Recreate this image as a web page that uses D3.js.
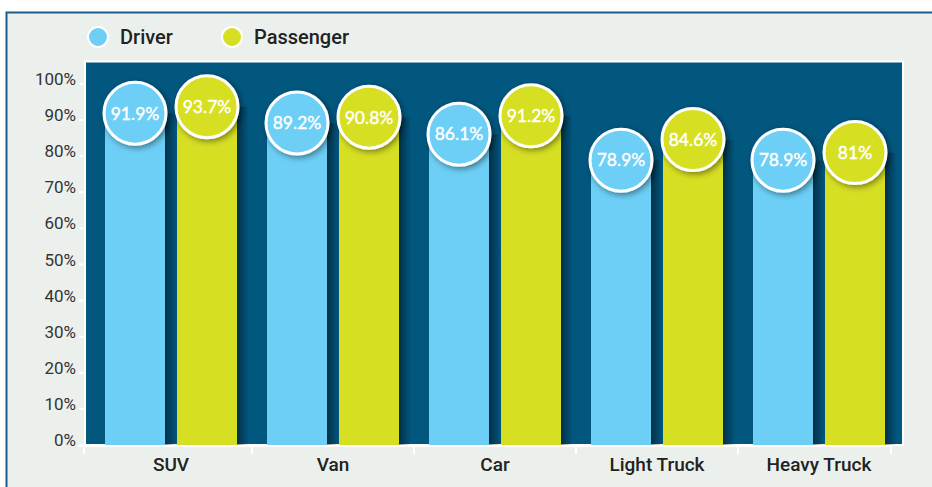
<!DOCTYPE html>
<html>
<head>
<meta charset="utf-8">
<script src="https://cdn.jsdelivr.net/npm/d3@7"></script>
<style>
    html, body { margin: 0; padding: 0; background: #fff; }
    svg { display: block; }
</style>
</head>
<body>
<div class="chart"></div>
<script>
const categories = ["SUV", "Van", "Car", "Light Truck", "Heavy Truck"];
const seriesNames = ["Driver", "Passenger"];
const driverValues = [91.9, 89.2, 86.1, 78.9, 78.9];
const passengerValues = [93.7, 90.8, 91.2, 84.6, 81];
const valueLabels = [
    ["91.9%", "89.2%", "86.1%", "78.9%", "78.9%"],
    ["93.7%", "90.8%", "91.2%", "84.6%", "81%"]
];
const yTicks = [0, 10, 20, 30, 40, 50, 60, 70, 80, 90, 100];

const width = 932;
const height = 487;
const colors = { Driver: "#6dcff6", Passenger: "#d7df23" };
const plotBg = "#02577f";

const svg = d3.select(".chart")
    .append("svg")
    .attr("width", width)
    .attr("height", height);

const defs = svg.append("defs");

const grad = defs.append("linearGradient")
    .attr("id", "barShadow");
grad.append("stop").attr("offset", "0%").attr("stop-color", "#000").attr("stop-opacity", 0.45);
grad.append("stop").attr("offset", "100%").attr("stop-color", "#000").attr("stop-opacity", 0);

const shadow = defs.append("filter")
    .attr("id", "circleShadow")
    .attr("x", "-50%").attr("y", "-50%")
    .attr("width", "200%").attr("height", "200%");
shadow.append("feDropShadow")
    .attr("dx", 2).attr("dy", 2)
    .attr("stdDeviation", 3)
    .attr("flood-color", "#000")
    .attr("flood-opacity", 0.45);

// frame
svg.append("rect")
    .attr("x", 6.5).attr("y", 12.5)
    .attr("width", width).attr("height", height)
    .attr("fill", "#ecf0ed")
    .attr("stroke", "#1b5d86")
    .attr("stroke-width", 2);

const x = d3.scaleBand()
    .domain(categories)
    .range([90, 900]);

const xInner = d3.scaleBand()
    .domain(seriesNames)
    .range([15, 147])
    .paddingInner(1 / 6);

const y = d3.scaleLinear()
    .domain([0, 100])
    .range([445, 84]);

// plot background
svg.append("rect")
    .attr("x", 85)
    .attr("y", 61.5)
    .attr("width", 818)
    .attr("height", y(0) - 61.5)
    .attr("fill", plotBg)
    .attr("stroke", "#fff")
    .attr("stroke-width", 2);

const data = categories.map((c, i) => ({
    category: c,
    values: [
        { series: "Driver", value: driverValues[i], label: valueLabels[0][i] },
        { series: "Passenger", value: passengerValues[i], label: valueLabels[1][i] }
    ]
}));

const group = svg.selectAll("g.cat")
    .data(data)
    .join("g")
    .attr("class", "cat")
    .attr("transform", d => `translate(${x(d.category)},0)`);

// shadows cast to the right of each bar
group.selectAll("rect.shadow")
    .data(d => d.values)
    .join("rect")
    .attr("class", "shadow")
    .attr("x", d => xInner(d.series) + xInner.bandwidth())
    .attr("y", d => y(d.value))
    .attr("width", 12)
    .attr("height", d => y(0) - y(d.value))
    .attr("fill", "url(#barShadow)");

group.selectAll("rect.bar")
    .data(d => d.values)
    .join("rect")
    .attr("class", "bar")
    .attr("x", d => xInner(d.series))
    .attr("y", d => y(d.value))
    .attr("width", xInner.bandwidth())
    .attr("height", d => y(0) - y(d.value))
    .attr("fill", d => colors[d.series]);

const bubble = group.selectAll("g.bubble")
    .data(d => d.values)
    .join("g")
    .attr("class", "bubble")
    .attr("transform", d => `translate(${xInner(d.series) + xInner.bandwidth() / 2},${y(d.value)})`);

bubble.append("circle")
    .attr("r", 31)
    .attr("fill", d => colors[d.series])
    .attr("stroke", "#fff")
    .attr("stroke-width", 3)
    .attr("filter", "url(#circleShadow)");

bubble.append("text")
    .attr("text-anchor", "middle")
    .attr("dy", "0.36em")
    .attr("fill", "#fff")
    .attr("font-family", "Lato, 'Open Sans', sans-serif")
    .attr("font-weight", 400)
    .attr("font-size", 17.5)
    .attr("stroke", "#fff")
    .attr("stroke-width", 0.4)
    .text(d => d.label);

// y axis
const yAxis = svg.append("g");
yAxis.selectAll("line")
    .data(yTicks)
    .join("line")
    .attr("x1", 79).attr("x2", 85)
    .attr("y1", d => y(d)).attr("y2", d => y(d))
    .attr("stroke", "#fff")
    .attr("stroke-width", 2);
yAxis.selectAll("text")
    .data(yTicks)
    .join("text")
    .attr("x", 76)
    .attr("y", d => y(d) + 1)
    .attr("text-anchor", "end")
    .attr("fill", "#333")
    .attr("font-family", "Roboto, sans-serif")
    .attr("font-size", 17)
    .text(d => d + "%");

// x axis
const xAxis = svg.append("g");
const xTickPos = [84, ...categories.slice(1).map(c => x(c)), 891];
xAxis.append("line")
    .attr("x1", 78).attr("x2", 892)
    .attr("y1", y(0) + 1).attr("y2", y(0) + 1)
    .attr("stroke", "#fff")
    .attr("stroke-width", 2);
xAxis.selectAll("line.tick")
    .data(xTickPos)
    .join("line")
    .attr("class", "tick")
    .attr("x1", d => d).attr("x2", d => d)
    .attr("y1", y(0)).attr("y2", y(0) + 9)
    .attr("stroke", "#fff")
    .attr("stroke-width", 2);
xAxis.selectAll("text")
    .data(categories)
    .join("text")
    .attr("x", d => x(d) + 81)
    .attr("y", 471)
    .attr("text-anchor", "middle")
    .attr("fill", "#222")
    .attr("font-family", "Roboto, sans-serif")
    .attr("font-weight", 500)
    .attr("font-size", 19)
    .text(d => d);

// legend
const legendX = [98, 232];
const legend = svg.selectAll("g.legend")
    .data(seriesNames)
    .join("g")
    .attr("class", "legend")
    .attr("transform", (d, i) => `translate(${legendX[i]},37)`);
legend.append("circle")
    .attr("r", 10)
    .attr("fill", d => colors[d])
    .attr("stroke", "#fff")
    .attr("stroke-width", 2);
legend.append("text")
    .attr("x", 22)
    .attr("dy", "0.36em")
    .attr("fill", "#222")
    .attr("font-family", "Roboto, sans-serif")
    .attr("font-weight", 500)
    .attr("font-size", 20)
    .text(d => d);
</script>
</body>
</html>
